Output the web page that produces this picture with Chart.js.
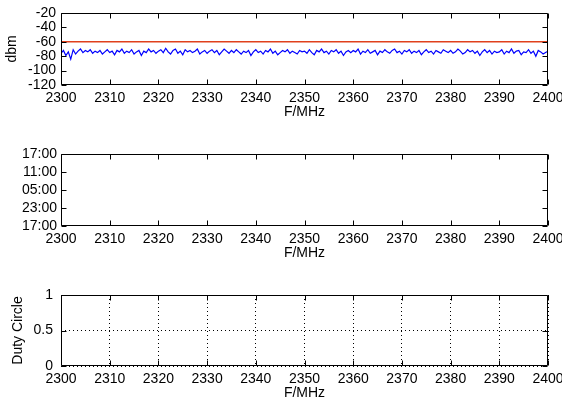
<!DOCTYPE html>
<html>
<head>
<meta charset="utf-8">
<script src="https://cdn.jsdelivr.net/npm/chart.js@4.4.1/dist/chart.umd.min.js"></script>
<style>
  html, body { margin: 0; padding: 0; background: #fff; }
  #wrap { position: relative; width: 562px; height: 408px; overflow: hidden; }
  canvas { position: absolute; left: 0; }
</style>
</head>
<body>
<div id="wrap">
  <canvas id="specChart" width="562" height="130" style="top:0px"></canvas>
  <canvas id="timeChart" width="562" height="130" style="top:141px"></canvas>
  <canvas id="dutyChart" width="562" height="130" style="top:282px"></canvas>
</div>
<script>
// frequency axis (MHz)
const freqStart = 2300;
const freqStep = 0.5;
const freqTicks = [2300, 2310, 2320, 2330, 2340, 2350, 2360, 2370, 2380, 2390, 2400];

// measured level, dBm (one value per 0.5 MHz)
const levelDbm = [
  -76,-72,-79,-74,-84,-71,-77,-73,-70,-75,-72,-74,-71,-76,-73,-75,-72,-77,-74,-71,
  -75,-73,-78,-72,-74,-70,-76,-73,-75,-71,-77,-74,-72,-79,-73,-75,-70,-74,-72,-76,
  -73,-71,-75,-69,-74,-77,-72,-70,-76,-73,-78,-71,-74,-72,-75,-73,-70,-77,-74,-72,
  -76,-73,-71,-75,-72,-78,-74,-70,-73,-76,-72,-75,-71,-74,-77,-73,-75,-72,-79,-74,
  -71,-75,-73,-77,-72,-74,-70,-76,-73,-78,-75,-72,-74,-71,-76,-73,-75,-77,-72,-74,
  -73,-76,-71,-75,-78,-72,-74,-70,-75,-73,-77,-72,-74,-71,-76,-73,-79,-74,-72,-75,
  -72,-74,-70,-77,-73,-75,-71,-76,-74,-72,-78,-73,-75,-71,-74,-76,-72,-70,-75,-73,
  -77,-72,-74,-71,-76,-73,-75,-72,-78,-74,-71,-75,-73,-77,-72,-74,-76,-71,-73,-75,
  -72,-76,-74,-70,-73,-77,-75,-71,-74,-72,-76,-73,-79,-74,-71,-75,-72,-77,-73,-75,
  -74,-71,-77,-73,-75,-70,-76,-73,-72,-78,-74,-75,-71,-76,-73,-80,-72,-74,-77,-75,
  -73
];
const thresholdDbm = -60;
const dbmTicks = [-120, -100, -80, -60, -40, -20];

// occupancy time axis labels, bottom to top
const timeLabels = ["17:00", "23:00", "05:00", "11:00", "17:00"];

// duty cycle
const dutyTicks = [0, 0.5, 1];

const FONT = { family: "'Liberation Sans', Arial, sans-serif", size: 14 };
const CANVAS_H = 130;

// box round the plot area with MATLAB-style inward ticks
const matlabAxes = {
  id: "matlabAxes",
  afterDatasetsDraw(chart) {
    const { ctx, chartArea: a, scales } = chart;
    const L = Math.round(a.left) + 0.5, R = Math.round(a.right) - 0.5;
    const T = Math.round(a.top) + 0.5, B = Math.round(a.bottom) - 0.5;
    ctx.save();
    ctx.strokeStyle = "#000";
    ctx.lineWidth = 1;
    ctx.setLineDash([]);
    ctx.beginPath();
    scales.x.ticks.forEach((t) => {
      const px = Math.round(scales.x.getPixelForValue(t.value)) + 0.5;
      ctx.moveTo(px, B); ctx.lineTo(px, B - 5);
      ctx.moveTo(px, T); ctx.lineTo(px, T + 5);
    });
    scales.y.ticks.forEach((t) => {
      const py = Math.round(scales.y.getPixelForValue(t.value)) + 0.5;
      ctx.moveTo(L, py); ctx.lineTo(L + 5, py);
      ctx.moveTo(R, py); ctx.lineTo(R - 5, py);
    });
    ctx.rect(L, T, R - L, B - T);
    ctx.stroke();
    ctx.restore();
  },
};

function makeChart(id, datasets, yOpts, opts) {
  const xTitlePad = CANVAS_H - (opts.areaBottom + 27) - (FONT.size * 1.2) / 2;
  return new Chart(document.getElementById(id), {
    type: "line",
    data: { datasets },
    plugins: [matlabAxes],
    options: {
      responsive: false,
      animation: false,
      events: [],
      layout: { padding: { top: opts.areaTop, right: 14, left: 0, bottom: 0 } },
      plugins: { legend: { display: false }, tooltip: { enabled: false } },
      elements: { point: { radius: 0 }, line: { tension: 0 } },
      scales: {
        x: {
          type: "linear",
          min: 2300,
          max: 2400,
          afterBuildTicks: (s) => { s.ticks = freqTicks.map((v) => ({ value: v })); },
          ticks: {
            color: "#000", font: FONT, padding: 5, maxRotation: 0, autoSkip: false,
            callback: (v) => String(v),
          },
          grid: {
            display: !!opts.grid,
            drawTicks: false,
            color: "#000",
            lineWidth: 1,
          },
          border: { display: false, dash: [1, 3] },
          title: {
            display: true,
            text: "F/MHz",
            color: "#000",
            font: FONT,
            padding: { top: 0, bottom: xTitlePad },
          },
          afterFit: (s) => {
            s.height = CANVAS_H - opts.areaBottom;
            s.paddingLeft = 0;
            s.paddingRight = 0;
          },
        },
        y: Object.assign({
          afterFit: (s) => {
            s.width = 61;
            s.paddingTop = 0;
            s.paddingBottom = 0;
          },
        }, yOpts),
      },
    },
  });
}

// 1) spectrum
const specPoints = levelDbm.map((v, i) => ({ x: freqStart + i * freqStep, y: v }));
makeChart("specChart", [
  { data: specPoints, borderColor: "#0000ff", borderWidth: 1.2 },
  { data: [{ x: 2300, y: thresholdDbm }, { x: 2400, y: thresholdDbm }], borderColor: "#e0401c", borderWidth: 1.5 },
], {
  type: "linear",
  min: -120,
  max: -20,
  afterBuildTicks: (s) => { s.ticks = dbmTicks.map((v) => ({ value: v })); },
  ticks: { color: "#000", font: FONT, padding: 5, autoSkip: false, callback: (v) => String(v) },
  grid: { display: false, drawTicks: false },
  border: { display: false },
  title: { display: true, text: "dbm", color: "#000", font: FONT, padding: { top: 4, bottom: 0 } },
}, { areaTop: 13, areaBottom: 85 });

// 2) occupancy time (empty)
makeChart("timeChart", [{ data: [] }], {
  type: "linear",
  min: 0,
  max: timeLabels.length - 1,
  afterBuildTicks: (s) => { s.ticks = timeLabels.map((_, i) => ({ value: i })); },
  ticks: { color: "#000", font: FONT, padding: 4, autoSkip: false, callback: (v) => timeLabels[v] },
  grid: { display: false, drawTicks: false },
  border: { display: false },
}, { areaTop: 13, areaBottom: 85 });

// 3) duty cycle (empty, dotted grid)
makeChart("dutyChart", [{ data: [] }], {
  type: "linear",
  min: 0,
  max: 1,
  afterBuildTicks: (s) => { s.ticks = dutyTicks.map((v) => ({ value: v })); },
  ticks: { color: "#000", font: FONT, padding: 8, autoSkip: false, callback: (v) => String(v) },
  grid: { display: true, drawTicks: false, color: "#000", lineWidth: 1 },
  border: { display: false, dash: [1, 3] },
  title: { display: true, text: "Duty Circle", color: "#000", font: FONT, padding: { top: 10, bottom: 0 } },
}, { areaTop: 13, areaBottom: 84, grid: true });
</script>
</body>
</html>
